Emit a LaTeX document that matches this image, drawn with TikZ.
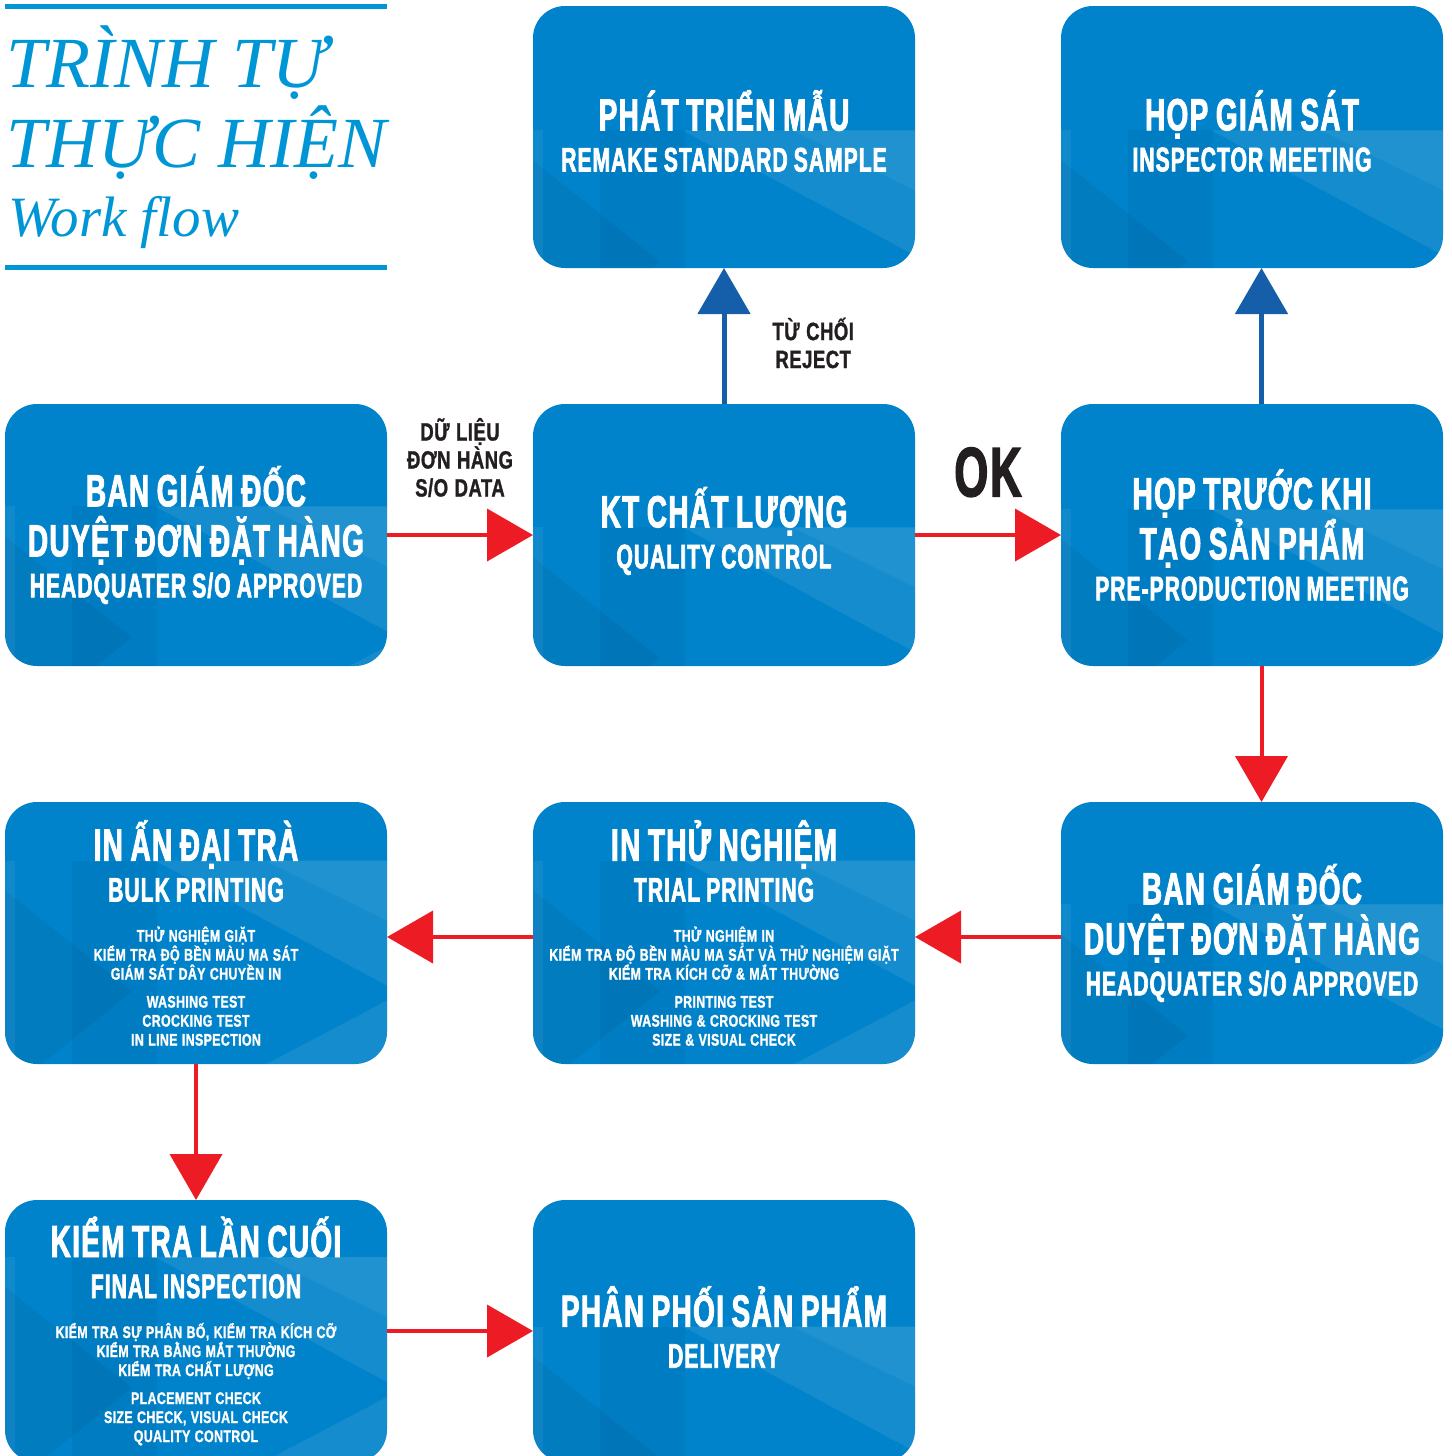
\documentclass[tikz,border=0pt]{standalone}
\usepackage{fontspec}
\setmainfont{Liberation Serif}
\newfontfamily\boxfont[FakeStretch=0.62,FakeBold=2,LetterSpace=3]{Liberation Sans Bold}
\newfontfamily\smallfont[FakeStretch=0.74,FakeBold=1.2,LetterSpace=2]{Liberation Sans Bold}
\usepackage{tikz}
\usetikzlibrary{arrows.meta}
\usetikzlibrary{positioning}

\definecolor{boxblue}{HTML}{0083CA}
\definecolor{arrowred}{HTML}{ED1C24}
\definecolor{arrowblue}{HTML}{155EAA}
\definecolor{titleblue}{HTML}{0096D6}
\definecolor{labelblack}{HTML}{231F20}

\lineskiplimit=-100pt
\newcommand{\hbig}{\fontsize{22.5}{25}\selectfont\spaceskip=0.17em\xspaceskip=0.17em\relax}
\newcommand{\hmid}{\fontsize{17}{20.5}\selectfont\spaceskip=0.18em\xspaceskip=0.18em\relax}
\newcommand{\hsmall}{\smallfont\fontsize{8.4}{9.5}\selectfont\spaceskip=0.26em\xspaceskip=0.26em\relax}
\newcommand{\hlabel}{\smallfont\fontsize{12.5}{14}\selectfont\spaceskip=0.26em\xspaceskip=0.26em\relax}

\begin{document}
\begin{tikzpicture}[x=0.5pt, y=-0.5pt,
            node distance=68pt and 73pt,
            stepbox/.style={rectangle, rounded corners=16pt, fill=boxblue, text=white,
                font=\boxfont, align=center, text width=191pt,
                minimum width=191pt, minimum height=131pt, inner sep=0pt, outer sep=0pt,
                path picture={
                    \begin{scope}[sharp corners, shift={(path picture bounding box.north west)}]
                        \fill[white, opacity=.06] (0,0) rectangle (10,262);
                        \fill[black, opacity=.04] (67,0) rectangle (152,262);
                        \fill[black, opacity=.05] (0,30) -- (127,131) -- (0,233) -- cycle;
                        \fill[white, opacity=.08] (150,0) -- (382,0) -- (382,125) -- cycle;
                        \fill[white, opacity=.08] (150,262) -- (382,262) -- (382,140) -- cycle;
                        \fill[white, opacity=.06] (260,0) -- (382,0) -- (382,60) -- cycle;
                        \fill[white, opacity=.06] (260,262) -- (382,262) -- (382,200) -- cycle;
                    \end{scope}
                }},
            redarrow/.style={draw=arrowred, line width=2pt, -{Triangle[length=23pt,width=26pt]}},
            bluearrow/.style={draw=arrowblue, line width=2.5pt, -{Triangle[length=23pt,width=26pt]}},
            arrowlabel/.style={font=\hlabel, text=labelblack, align=center, inner sep=0pt},
            titletext/.style={text=titleblue, inner sep=0pt, anchor=base west},
        ]
        \useasboundingbox (0,0) rectangle (1451,1456);

        % Title.
        \draw[titleblue, line width=2.5pt] (5,6) -- (387,6);
        \draw[titleblue, line width=2.5pt] (5,267.5) -- (387,267.5);
        \node[titletext, font=\itshape\fontsize{36}{36}\selectfont] (title_a) at (6,87) {TRÌNH TỰ};
        \node[titletext, font=\itshape\fontsize{36}{36}\selectfont] (title_b) at (6,167) {THỰC HIỆN};
        \node[titletext, font=\itshape\fontsize{28.5}{28.5}\selectfont] (title_c) at (8,236) {Work flow};

        % Nodes.
        \node[stepbox] (board) at (196,535)
            {{\hbig BAN GIÁM ĐỐC\\DUYỆT ĐƠN ĐẶT HÀNG\par}{\hmid HEADQUATER S/O APPROVED\par}};
        \node[stepbox] (quality)  [right=of board]   {{\hbig KT CHẤT LƯỢNG\par}{\hmid QUALITY CONTROL\par}\vspace{4pt}};
        \node[stepbox] (preprod)  [right=of quality] {{\hbig HỌP TRƯỚC KHI\\TẠO SẢN PHẨM\par}{\hmid PRE-PRODUCTION MEETING\par}};
        \node[stepbox] (sample)   [above=of quality] {{\hbig PHÁT TRIỂN MẪU\par}{\hmid REMAKE STANDARD SAMPLE\par}\vspace{6pt}};
        \node[stepbox] (inspect)  [above=of preprod] {{\hbig HỌP GIÁM SÁT\par}{\hmid INSPECTOR MEETING\par}\vspace{6pt}};
        \node[stepbox] (board_two) [below=of preprod]
            {{\hbig BAN GIÁM ĐỐC\\DUYỆT ĐƠN ĐẶT HÀNG\par}{\hmid HEADQUATER S/O APPROVED\par}};
        \node[stepbox] (trial)    [left=of board_two]
            {{\hbig IN THỬ NGHIỆM\par}{\hmid TRIAL PRINTING\par}\vspace{10.5pt}%
             {\hsmall THỬ NGHIỆM IN\\KIỂM TRA ĐỘ BỀN MÀU MA SÁT VÀ THỬ NGHIỆM GIẶT\\KIỂM TRA KÍCH CỠ \& MẮT THƯỜNG\par}\vspace{4.5pt}%
             {\hsmall PRINTING TEST\\WASHING \& CROCKING TEST\\SIZE \& VISUAL CHECK\par}};
        \node[stepbox] (bulk)     [left=of trial]
            {{\hbig IN ẤN ĐẠI TRÀ\par}{\hmid BULK PRINTING\par}\vspace{10.5pt}%
             {\hsmall THỬ NGHIỆM GIẶT\\KIỂM TRA ĐỘ BỀN MÀU MA SÁT\\GIÁM SÁT DÂY CHUYỀN IN\par}\vspace{4.5pt}%
             {\hsmall WASHING TEST\\CROCKING TEST\\IN LINE INSPECTION\par}};
        \node[stepbox] (final)    [below=of bulk]
            {{\hbig KIỂM TRA LẦN CUỐI\par}{\hmid FINAL INSPECTION\par}\vspace{10.5pt}%
             {\hsmall KIỂM TRA SỰ PHÂN BỐ, KIỂM TRA KÍCH CỠ\\KIỂM TRA BẰNG MẮT THƯỜNG\\KIỂM TRA CHẤT LƯỢNG\par}\vspace{4.5pt}%
             {\hsmall PLACEMENT CHECK\\SIZE CHECK, VISUAL CHECK\\QUALITY CONTROL\par}};
        \node[stepbox] (delivery) [right=of final]   {{\hbig PHÂN PHỐI SẢN PHẨM\par}{\hmid DELIVERY\par}\vspace{4pt}};

        % Lines.
        \draw[redarrow] (board) -- node[arrowlabel, above=18pt] (data_label) {DỮ LIỆU\\ĐƠN HÀNG\\S/O DATA} (quality);
        \draw[redarrow] (quality) -- node[arrowlabel, font=\boxfont\fontsize{35}{35}\selectfont, above=18pt] (ok_label) {OK} (preprod);
        \draw[bluearrow] (quality) -- node[arrowlabel, right=23pt, yshift=-3.5pt] (reject_label) {TỪ CHỐI\\REJECT} (sample);
        \draw[bluearrow] ([xshift=4.75pt]preprod.north) -- ([xshift=4.75pt]inspect.south);
        \draw[redarrow] ([xshift=4.75pt]preprod.south) -- ([xshift=4.75pt]board_two.north);
        \draw[redarrow] ([yshift=-2pt]board_two.west) -- ([yshift=-2pt]trial.east);
        \draw[redarrow] ([yshift=-2pt]trial.west) -- ([yshift=-2pt]bulk.east);
        \draw[redarrow] (bulk) -- (final);
        \draw[redarrow] (final) -- (delivery);
    \end{tikzpicture}
\end{document}
